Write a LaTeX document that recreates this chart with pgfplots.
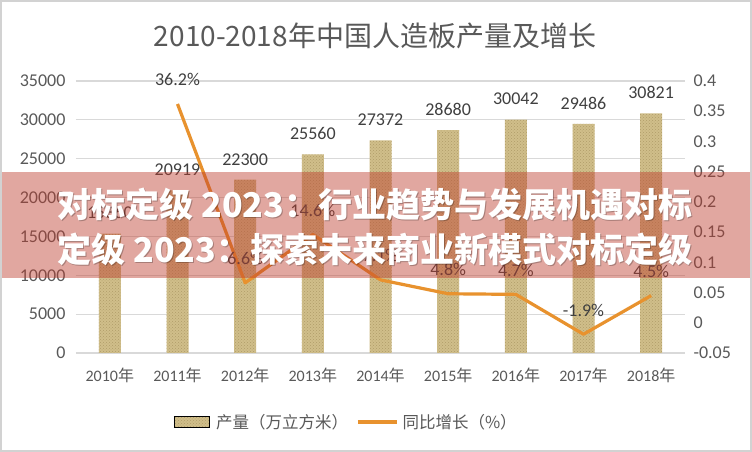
\documentclass[border=0pt]{standalone}
\usepackage{fontspec}
\setmainfont{Carlito}
\newfontfamily\cjk{Noto Sans CJK SC}
\usepackage{pgfplots}
\pgfplotsset{compat=1.18}
\usepackage{pgfplotstable}
\usetikzlibrary{patterns}

\definecolor{txt}{HTML}{595959}
\definecolor{lbl}{HTML}{404040}
\definecolor{gridc}{HTML}{D9D9D9}
\definecolor{barc}{RGB}{208,190,138}
\definecolor{bardk}{RGB}{176,156,104}
\definecolor{linec}{RGB}{232,146,46}
\definecolor{band}{RGB}{190,60,45}

% production, 10k m^3
\pgfplotstableread{
x prod
0 15360
1 20919
2 22300
3 25560
4 27372
5 28680
6 30042
7 29486
8 30821
}\prodtab

% year-on-year growth
\pgfplotstableread{
x g pct
1 0.362 36.2
2 0.066 6.6
3 0.146 14.6
4 0.071 7.1
5 0.048 4.8
6 0.047 4.7
7 -0.019 -1.9
8 0.045 4.5
}\growtab

\pgfplotsset{
  base/.style={
    at={(76pt,99pt)}, anchor=south west,
    scale only axis, width=609pt, height=272pt,
    xmin=-0.5, xmax=8.5,
    axis line style={draw=none},
    major tick length=0pt,
    /pgf/number format/assume math mode=true,
    /pgf/number format/set thousands separator={},
    scaled y ticks=false,
  },
}

\begin{document}
\begin{tikzpicture}
\useasboundingbox (0,0) rectangle (752pt,452pt);
\fill[white] (0,0) rectangle (752pt,452pt);

\node[font=\cjk\fontsize{28}{28}\selectfont, text=txt] at (375pt,416pt)
  {2010-2018年中国人造板产量及增长};

\begin{axis}[base,
    ymin=0, ymax=35000,
    ytick={0,5000,...,35000},
    ymajorgrids, grid style={gridc, line width=1.2pt},
    xtick={0,...,8},
    xticklabels={2010{\cjk 年},2011{\cjk 年},2012{\cjk 年},2013{\cjk 年},2014{\cjk 年},2015{\cjk 年},2016{\cjk 年},2017{\cjk 年},2018{\cjk 年}},
    xticklabel style={font=\fontsize{16}{16}\selectfont, text=txt, yshift=-11pt},
    yticklabel style={font=\fontsize{18}{18}\selectfont, text=txt, xshift=-7pt},
    ybar, bar width=22pt,
    nodes near coords,
    every node near coord/.append style={font=\fontsize{18}{18}\selectfont, text=lbl, yshift=11pt},
  ]
  \addplot[draw=none, fill=barc, postaction={pattern=crosshatch dots, pattern color=bardk}]
    table[x=x, y=prod] {\prodtab};
\end{axis}

\begin{axis}[base,
    ymin=-0.05, ymax=0.4,
    axis x line=none,
    axis y line*=right,
    ytick={-0.05,0,0.05,0.1,0.15,0.2,0.25,0.3,0.35,0.4},
    yticklabels={-0.05,0,0.05,0.1,0.15,0.2,0.25,0.3,0.35,0.4},
    yticklabel style={font=\fontsize{18}{18}\selectfont, text=txt, xshift=5pt},
    legend style={at={(0.4436,-0.2537)}, anchor=center, draw=none, fill=none,
      legend columns=2, font=\cjk\fontsize{16.5}{16.5}\selectfont, text=txt,
      /tikz/every even column/.append style={column sep=6pt},
      legend cell align=left},
  ]
  \addlegendimage{legend image code/.code={\fill[barc] (0pt,-5.5pt) rectangle (35pt,5.5pt);
      \fill[pattern=crosshatch dots, pattern color=bardk] (0pt,-5.5pt) rectangle (35pt,5.5pt);}}
  \addlegendentry{\hspace{5pt}产量（万立方米）}
  \addplot[linec, line width=3.2pt, mark=none, line join=round,
      point meta=explicit,
      nodes near coords={\pgfmathprintnumber[fixed,precision=1,fixed zerofill]{\pgfplotspointmeta}\%},
      every node near coord/.append style={font=\fontsize{18}{18}\selectfont, text=lbl, anchor=south, yshift=13pt},
      legend image code/.code={\draw[linec, line width=3.5pt] (0pt,0pt) -- (39pt,0pt);}]
    table[x=x, y=g, meta=pct] {\growtab};
  \addlegendentry{\hspace{2pt}同比增长（\%）}
\end{axis}

% overlaid banner
\fill[band, opacity=0.45] (0,174pt) rectangle (752pt,280pt);
\begin{scope}[every node/.style={font=\cjk\bfseries\fontsize{34}{34}\selectfont}]
\node[text=black, opacity=0.25] at (376pt,246pt) {对标定级 2023：行业趋势与发展机遇对标};
\node[text=black, opacity=0.25] at (376pt,202pt) {定级 2023：探索未来商业新模式对标定级};
\node[text=white] at (375pt,247pt) {对标定级 2023：行业趋势与发展机遇对标};
\node[text=white] at (375pt,203pt) {定级 2023：探索未来商业新模式对标定级};
\end{scope}

\draw[gray!35, line width=2pt] (1pt,1pt) rectangle (751pt,451pt);
\end{tikzpicture}
\end{document}
